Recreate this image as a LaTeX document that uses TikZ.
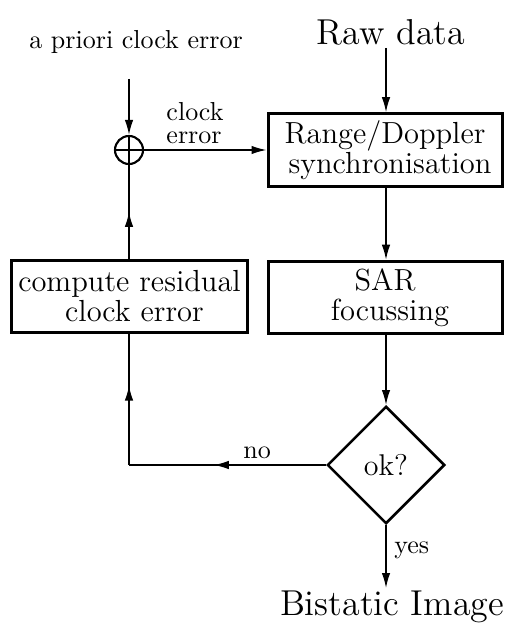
\documentclass[tikz,border=0pt]{standalone}
\usetikzlibrary{shapes.geometric,arrows.meta,decorations.markings}
\begin{document}
\begin{tikzpicture}[x=0.4pt,y=-0.4pt,
  tip/.style={-{Latex[length=6pt,width=3.4pt]}},
  conn/.style={line width=0.6pt},
  procbox/.style={draw,line width=1.2pt,font=\fontsize{12.2}{11.8}\selectfont,align=center,inner sep=0pt,
    minimum width=93.6pt,minimum height=29pt},
  midtipfwd/.style={postaction={decorate},decoration={markings,
    mark=at position 0.5 with {\draw[conn,tip] (0,0) -- (5.5pt,0);}}},
  midtipend/.style={postaction={decorate},decoration={markings,
    mark=at position 0.5 with {\draw[conn,tip] (-5.5pt,0) -- (0,0);}}},
  lbl/.style={inner sep=0pt,font=\fontsize{10.4}{13}\selectfont}
]
\useasboundingbox (0,0) rectangle (507,625);

\node[lbl,font=\Large] (raw) at (391,32) {Raw data};
\node[lbl] (apriori) at (136,42) {a priori clock error};
\node[procbox] (sync) at (385,150) {Range/Doppler\\\mbox{}\ synchronisation};
\node[procbox] (sar) at (385,297.5) {SAR\\\mbox{}\ focussing};
\node[procbox,minimum width=94pt,minimum height=28.8pt] (comp) at (129.5,296) {compute residual\\\mbox{}\ clock error};
\node[draw,shape=diamond,line width=1pt,minimum width=47pt,minimum height=47pt,inner sep=0pt,font=\large] (ok) at (386,465) {ok?};
\node[draw,circle,line width=0.85pt,minimum size=11.2pt,inner sep=0pt,
  path picture={\draw[line width=0.85pt] (path picture bounding box.north) -- (path picture bounding box.south)
   (path picture bounding box.west) -- (path picture bounding box.east);}] (plus) at (129,150) {};
\node[lbl,font=\Large] (bist) at (392,607) {Bistatic Image};
\node[lbl,align=left,font=\fontsize{10.4}{9}\selectfont] (celbl) at (195,123) {clock\\error};
\coordinate (aptop) at (129,79);
\coordinate (rawbot) at (386,48);
\coordinate (corner) at (129,465);
\coordinate (yesend) at (386,588);

\draw[conn,tip] (aptop) -- (plus.north);
\draw[conn,tip] (rawbot) -- (sync.north -| rawbot);
\draw[conn,tip] (plus.east) -- (sync.west);
\draw[conn,tip] (sync.south -| rawbot) -- (sar.north -| rawbot);
\draw[conn,tip] (sar.south -| rawbot) -- (ok.north);
\draw[conn,tip] (ok.south) -- node[lbl,right,pos=0.4,xshift=3pt] {yes} (yesend);
\draw[conn,midtipfwd] (ok.west) -- node[lbl,above,pos=0.35,yshift=2pt] {no} (corner);
\draw[conn,midtipfwd] (corner) -- (comp.south -| corner);
\draw[conn,midtipend] (comp.north -| corner) -- (plus.south);
\end{tikzpicture}
\end{document}
